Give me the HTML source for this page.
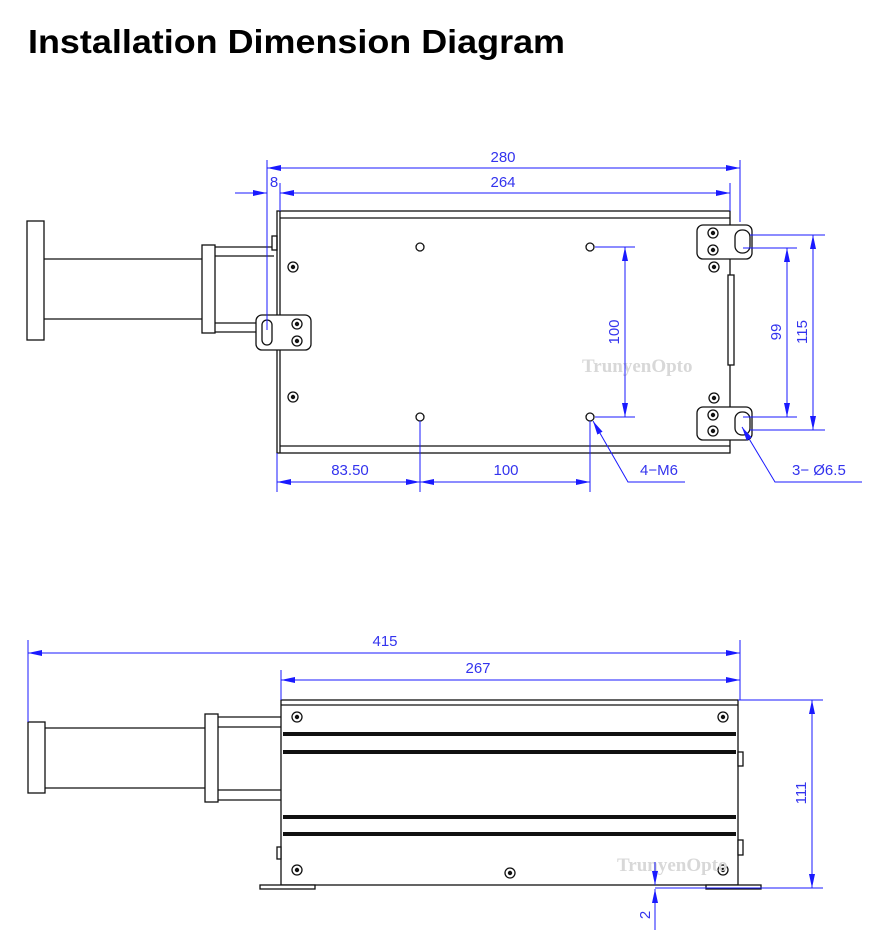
<!DOCTYPE html>
<html><head><meta charset="utf-8"><style>
html,body{margin:0;padding:0;background:#fff;}
svg{display:block;}
.d{stroke:#1a1aff;stroke-width:1;fill:none;}
.t{fill:#3333ee;font-family:"Liberation Sans Narrow","Liberation Sans",sans-serif;font-size:15px;}
.k{stroke:#111;stroke-width:1.3;fill:none;}
.kf{stroke:#111;stroke-width:1.3;fill:#fff;}
.wm{fill:#d8d8d8;font-family:"Liberation Serif",serif;font-weight:bold;font-size:19px;}
</style></head><body>
<svg width="882" height="940" viewBox="0 0 882 940" xmlns="http://www.w3.org/2000/svg">
<defs>
<marker id="a" viewBox="0 0 14 6" refX="14" refY="3" markerWidth="14" markerHeight="6" orient="auto-start-reverse" markerUnits="userSpaceOnUse"><path d="M0,0 L14,3 L0,6 z" fill="#1a1aff"/></marker>
<g id="scr"><circle r="5" fill="#fff" stroke="#111" stroke-width="1.3"/><circle r="2.2" fill="#111"/></g>
</defs>
<text x="28" y="53" font-family="Liberation Sans,sans-serif" font-weight="bold" font-size="33" textLength="537" lengthAdjust="spacingAndGlyphs">Installation Dimension Diagram</text>

<!-- TOP VIEW -->
<!-- cylinder -->
<rect x="27" y="221" width="17" height="119" class="kf"/>
<path d="M44 259 H202 M44 319 H202" class="k"/>
<rect x="202" y="245" width="13" height="88" class="kf"/>
<path d="M215 247 H274 M215 256 H274 M215 323 H258 M215 332 H258" class="k"/>
<rect x="272" y="236" width="5" height="14" class="kf"/>
<!-- box -->
<rect x="277" y="211" width="453" height="242" class="k"/>
<path d="M280 218 H730 M280 446 H730 M280 211 V453" class="k"/>
<rect x="728" y="275" width="6" height="90" class="kf"/>
<!-- left bracket -->
<rect x="256" y="315" width="55" height="35" rx="6" class="kf"/>
<rect x="262" y="320" width="10" height="25" rx="5" class="k"/>
<use href="#scr" x="297" y="324"/><use href="#scr" x="297" y="341"/>
<use href="#scr" x="293" y="267"/><use href="#scr" x="293" y="397"/>
<circle cx="420" cy="247" r="4" class="kf"/><circle cx="590" cy="247" r="4" class="kf"/>
<circle cx="420" cy="417" r="4" class="kf"/><circle cx="590" cy="417" r="4" class="kf"/>
<!-- right brackets -->
<rect x="697" y="225" width="55" height="34" rx="6" class="kf"/>
<rect x="735" y="230" width="15" height="23" rx="7" class="k"/>
<use href="#scr" x="713" y="233"/><use href="#scr" x="713" y="250"/><use href="#scr" x="714" y="267"/>
<rect x="697" y="407" width="55" height="33" rx="6" class="kf"/>
<rect x="735" y="412" width="15" height="23" rx="7" class="k"/>
<use href="#scr" x="713" y="415"/><use href="#scr" x="713" y="431"/><use href="#scr" x="714" y="398"/>
<text x="582" y="372" class="wm">TrunyenOpto</text>

<!-- top dims -->
<path d="M267 160 V330 M740 160 V222 M280 183 V211 M730 183 V211" class="d"/>
<line x1="267" y1="168" x2="740" y2="168" class="d" marker-start="url(#a)" marker-end="url(#a)"/>
<text x="503" y="162" class="t" text-anchor="middle">280</text>
<line x1="280" y1="193" x2="730" y2="193" class="d" marker-start="url(#a)" marker-end="url(#a)"/>
<text x="503" y="187" class="t" text-anchor="middle">264</text>
<line x1="235" y1="193" x2="267" y2="193" class="d" marker-end="url(#a)"/>
<text x="274" y="187" class="t" text-anchor="middle">8</text>
<!-- 100 vertical -->
<path d="M595 247 H635 M595 417 H635" class="d"/>
<line x1="625" y1="247" x2="625" y2="417" class="d" marker-start="url(#a)" marker-end="url(#a)"/>
<text transform="translate(619,332) rotate(-90)" class="t" text-anchor="middle">100</text>
<!-- 99 / 115 -->
<path d="M743 248 H797 M743 417 H797 M750 235 H825 M750 430 H825" class="d"/>
<line x1="787" y1="248" x2="787" y2="417" class="d" marker-start="url(#a)" marker-end="url(#a)"/>
<text transform="translate(781,332) rotate(-90)" class="t" text-anchor="middle">99</text>
<line x1="813" y1="235" x2="813" y2="430" class="d" marker-start="url(#a)" marker-end="url(#a)"/>
<text transform="translate(807,332) rotate(-90)" class="t" text-anchor="middle">115</text>
<!-- leaders -->
<path d="M685 482 H628 L593 421" class="d" marker-end="url(#a)"/>
<text x="640" y="475" class="t">4−M6</text>
<path d="M862 482 H775 L742 427" class="d" marker-end="url(#a)"/>
<text x="792" y="475" class="t">3− Ø6.5</text>
<!-- bottom dims -->
<path d="M277 453 V492 M420 421 V492 M590 421 V492" class="d"/>
<line x1="277" y1="482" x2="420" y2="482" class="d" marker-start="url(#a)" marker-end="url(#a)"/>
<text x="350" y="475" class="t" text-anchor="middle">83.50</text>
<line x1="420" y1="482" x2="590" y2="482" class="d" marker-start="url(#a)" marker-end="url(#a)"/>
<text x="506" y="475" class="t" text-anchor="middle">100</text>

<!-- SIDE VIEW -->
<rect x="28" y="722" width="17" height="71" class="kf"/>
<path d="M45 728 H205 M45 788 H205" class="k"/>
<rect x="205" y="714" width="13" height="88" class="kf"/>
<path d="M218 717 H281 M218 727 H281 M218 790 H281 M218 800 H281" class="k"/>
<rect x="281" y="700" width="457" height="185" class="k"/>
<path d="M281 705 H738" class="k"/>
<rect x="283" y="732" width="453" height="4" fill="#111"/>
<rect x="283" y="750" width="453" height="4" fill="#111"/>
<rect x="283" y="815" width="453" height="4" fill="#111"/>
<rect x="283" y="832" width="453" height="4" fill="#111"/>
<rect x="738" y="752" width="5" height="14" class="kf"/>
<rect x="738" y="840" width="5" height="15" class="kf"/>
<rect x="277" y="847" width="4" height="12" class="kf"/>
<rect x="260" y="885" width="55" height="4" class="kf"/>
<rect x="706" y="885" width="55" height="4" class="kf"/>
<use href="#scr" x="297" y="717"/><use href="#scr" x="723" y="717"/>
<use href="#scr" x="297" y="870"/><use href="#scr" x="723" y="870"/><use href="#scr" x="510" y="873"/>
<text x="617" y="871" class="wm">TrunyenOpto</text>
<!-- side dims -->
<path d="M28 640 V722 M740 640 V700 M281 670 V700" class="d"/>
<line x1="28" y1="653" x2="740" y2="653" class="d" marker-start="url(#a)" marker-end="url(#a)"/>
<text x="385" y="646" class="t" text-anchor="middle">415</text>
<line x1="281" y1="680" x2="740" y2="680" class="d" marker-start="url(#a)" marker-end="url(#a)"/>
<text x="478" y="673" class="t" text-anchor="middle">267</text>
<path d="M738 700 H823 M655 888 H823" class="d"/>
<line x1="812" y1="700" x2="812" y2="888" class="d" marker-start="url(#a)" marker-end="url(#a)"/>
<text transform="translate(806,793) rotate(-90)" class="t" text-anchor="middle">111</text>
<line x1="655" y1="862" x2="655" y2="885" class="d" marker-end="url(#a)"/>
<line x1="655" y1="930" x2="655" y2="889" class="d" marker-end="url(#a)"/>
<text transform="translate(650,915) rotate(-90)" class="t" text-anchor="middle">2</text>
</svg>
</body></html>
